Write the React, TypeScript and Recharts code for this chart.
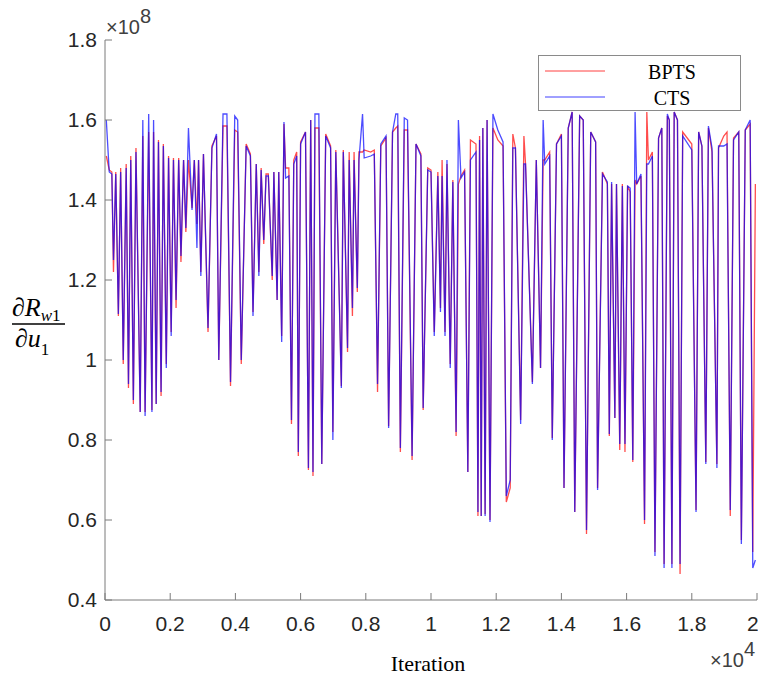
import { LineChart, Line, XAxis, YAxis, Legend } from 'recharts';

// iteration index of each vertex (shared by both series)
const iterations = [
  40, 130, 210, 260, 330, 410, 480, 560, 650, 720,
  790, 870, 950, 1080, 1160, 1230, 1340, 1440, 1490, 1570,
  1640, 1720, 1790, 1880, 1950, 2030, 2100, 2180, 2260, 2330,
  2410, 2480, 2560, 2670, 2740, 2820, 2870, 2940, 3020, 3160,
  3280, 3420, 3490, 3620, 3740, 3850, 3980, 4070, 4180, 4330,
  4460, 4540, 4640, 4720, 4790, 4870, 4940, 5010, 5130, 5180,
  5280, 5330, 5420, 5490, 5540, 5640, 5720, 5790, 5880, 5930,
  6000, 6150, 6240, 6310, 6380, 6440, 6560, 6650, 6770, 6920,
  6990, 7080, 7250, 7310, 7440, 7490, 7590, 7640, 7740, 7790,
  7900, 7950, 8150, 8260, 8360, 8460, 8620, 8700, 8820, 8920,
  8980, 9060, 9180, 9280, 9420, 9540, 9690, 9760, 9900, 10000,
  10100, 10210, 10290, 10340, 10430, 10490, 10590, 10670, 10770, 10840,
  10920, 11030, 11130, 11210, 11380, 11440, 11490, 11540, 11590, 11660,
  11720, 11810, 11900, 12050, 12210, 12310, 12430, 12510, 12590, 12750,
  12850, 12900, 13110, 13230, 13360, 13440, 13490, 13640, 13720, 13850,
  14000, 14080, 14210, 14330, 14410, 14560, 14670, 14770, 14900, 15050,
  15110, 15260, 15410, 15470, 15540, 15640, 15690, 15790, 15870, 15950,
  16030, 16110, 16190, 16260, 16310, 16440, 16550, 16620, 16670, 16790,
  16870, 16980, 17080, 17150, 17250, 17310, 17390, 17460, 17560, 17640,
  17720, 18000, 18130, 18210, 18310, 18430, 18510, 18620, 18770, 18820,
  18980, 19080, 19180, 19280, 19440, 19520, 19640, 19790, 19870, 19950,
];

// dR_w1/du_1 in units of 1e8
const bptsValues = [
  1.51, 1.475, 1.47, 1.22, 1.47, 1.11, 1.48, 0.99, 1.49, 0.93,
  1.51, 0.89, 1.53, 0.87, 1.56, 0.87, 1.57, 0.875, 1.57, 0.89,
  1.55, 0.91, 1.54, 0.99, 1.51, 1.07, 1.505, 1.13, 1.505, 1.245,
  1.5, 1.32, 1.5, 1.38, 1.5, 1.34, 1.5, 1.22, 1.515, 1.07,
  1.535, 1.56, 1.0, 1.585, 1.585, 0.935, 1.575, 1.57, 0.99, 1.54,
  1.515, 1.12, 1.49, 1.22, 1.48, 1.29, 1.465, 1.465, 1.2, 1.47,
  1.15, 1.47, 1.06, 1.59, 1.48, 1.48, 0.84, 1.5, 1.52, 0.76,
  1.545, 1.57, 0.725, 1.6, 0.71, 1.58, 1.58, 0.74, 1.565, 1.535,
  0.82, 1.525, 0.935, 1.525, 1.02, 1.52, 1.11, 1.52, 1.17, 1.52,
  1.52, 1.525, 1.52, 1.525, 0.92, 1.535, 1.555, 0.835, 1.57, 1.58,
  1.585, 0.77, 1.575, 1.575, 0.75, 1.54, 1.515, 0.875, 1.48, 1.475,
  1.07, 1.47, 1.13, 1.5, 1.07, 1.49, 0.99, 1.45, 0.81, 1.44,
  1.46, 1.475, 0.72, 1.55, 1.54, 0.61, 1.56, 0.61, 1.58, 0.615,
  1.6, 0.6, 1.58, 1.55, 1.535, 0.645, 0.68, 1.565, 1.53, 0.85,
  1.56, 1.49, 0.945, 1.5, 0.98, 1.5, 1.5, 1.52, 0.805, 1.54,
  1.565, 0.68, 1.58, 1.62, 0.62, 1.61, 1.6, 0.565, 1.57, 1.545,
  0.68, 1.47, 1.44, 0.81, 1.44, 0.855, 1.44, 0.775, 1.44, 0.77,
  1.435, 1.42, 0.745, 1.45, 1.44, 1.46, 0.59, 1.62, 1.5, 1.52,
  0.52, 1.555, 1.58, 0.49, 1.61, 1.6, 0.49, 1.62, 1.6, 0.465,
  1.57, 1.54, 0.625, 1.57, 1.535, 0.745, 1.58, 1.52, 0.74, 1.53,
  1.56, 1.57, 0.61, 1.555, 1.57, 0.55, 1.575, 1.59, 0.52, 1.44,
];

const ctsValues = [
  1.6, 1.47, 1.465, 1.25, 1.465, 1.115, 1.47, 1.0, 1.48, 0.94,
  1.5, 0.9, 1.52, 0.87, 1.6, 0.86, 1.615, 0.87, 1.6, 0.89,
  1.545, 0.92, 1.535, 0.98, 1.505, 1.06, 1.5, 1.15, 1.5, 1.26,
  1.5, 1.33, 1.58, 1.375, 1.5, 1.28, 1.5, 1.21, 1.515, 1.08,
  1.53, 1.565, 1.0, 1.615, 1.615, 0.945, 1.61, 1.6, 1.0, 1.535,
  1.51, 1.11, 1.49, 1.21, 1.475, 1.3, 1.46, 1.46, 1.21, 1.47,
  1.15, 1.47, 1.045, 1.595, 1.455, 1.46, 0.85, 1.49, 1.51, 0.77,
  1.54, 1.57, 0.73, 1.6, 0.72, 1.615, 1.615, 0.74, 1.56, 1.53,
  0.8, 1.52, 0.93, 1.52, 1.03, 1.5, 1.13, 1.5, 1.18, 1.5,
  1.615, 1.505, 1.51, 1.515, 0.94, 1.54, 1.56, 0.83, 1.57, 1.615,
  1.615, 0.78, 1.605, 1.6, 0.76, 1.54, 1.51, 0.88, 1.475, 1.47,
  1.06, 1.46, 1.12, 1.46, 1.06, 1.5, 0.98, 1.445, 0.82, 1.6,
  1.455, 1.47, 0.72, 1.5, 1.52, 0.62, 1.55, 0.61, 1.58, 0.61,
  1.6, 0.595, 1.615, 1.575, 1.545, 0.66, 0.7, 1.53, 1.53, 0.84,
  1.49, 1.49, 0.94, 1.5, 0.98, 1.6, 1.49, 1.51, 0.8, 1.54,
  1.56, 0.68, 1.58, 1.62, 0.62, 1.61, 1.6, 0.575, 1.57, 1.545,
  0.675, 1.465, 1.445, 0.815, 1.445, 0.855, 1.44, 0.79, 1.435, 0.79,
  1.435, 1.43, 0.75, 1.62, 1.44, 1.465, 0.6, 1.49, 1.49, 1.51,
  0.51, 1.555, 1.58, 0.48, 1.615, 1.6, 0.48, 1.62, 1.6, 0.49,
  1.56, 1.525, 0.62, 1.57, 1.535, 0.74, 1.585, 1.53, 0.73, 1.535,
  1.535, 1.54, 0.625, 1.55, 1.57, 0.54, 1.575, 1.6, 0.48, 0.5,
];

const xTicks = [0, 2000, 4000, 6000, 8000, 10000, 12000, 14000, 16000, 18000, 20000];
const yTicks = [0.4, 0.6, 0.8, 1, 1.2, 1.4, 1.6, 1.8];

const bptsData = iterations.map((x, i) => ({ x, y: bptsValues[i] }));
const ctsData = iterations.map((x, i) => ({ x, y: ctsValues[i] }));

const axisColor = '#7a7a7a';
const sans = '"Liberation Sans", Arial, sans-serif';
const serif = '"Liberation Serif", "Times New Roman", serif';
const tickFont = { fontFamily: sans, fontSize: 21, fill: '#262626' };

function LegendBox({ payload }: any) {
  return (
    <div
      style={{
        width: 203,
        height: 56,
        boxSizing: 'border-box',
        border: '1px solid #8a8a8a',
        background: '#fff',
        position: 'relative',
        fontFamily: serif,
        fontSize: 20,
        color: '#000',
      }}
    >
      {(payload || []).map((entry: any, i: number) => (
        <div key={entry.value} style={{ position: 'absolute', left: 0, top: 4 + i * 26, width: '100%', height: 24 }}>
          <svg width={70} height={24} style={{ position: 'absolute', left: 0, top: 0 }}>
            <line x1={6} x2={66} y1={11} y2={11} stroke={entry.color} strokeOpacity={0.75} strokeWidth={1} />
          </svg>
          <span style={{ position: 'absolute', left: 95, width: 76, textAlign: 'center', top: 0, lineHeight: '24px' }}>
            {entry.value}
          </span>
        </div>
      ))}
    </div>
  );
}

export default function App() {
  return (
    <div style={{ position: 'absolute', left: 0, top: 0, width: 758, height: 677, background: '#fff' }}>
      <LineChart width={758} height={677} margin={{ top: 40, right: 1, bottom: 47, left: 0 }}>
        <XAxis
          dataKey="x"
          type="number"
          domain={[0, 20000]}
          allowDataOverflow
          ticks={xTicks}
          tickFormatter={(v: number) => String(v / 10000)}
          height={30}
          stroke={axisColor}
          tickSize={-7}
          tickMargin={23}
          tick={tickFont}
        />
        <XAxis
          xAxisId="top"
          orientation="top"
          type="number"
          domain={[0, 20000]}
          allowDataOverflow
          ticks={xTicks}
          height={0}
          stroke={axisColor}
          tickSize={-7}
          tick={false}
        />
        <YAxis
          type="number"
          domain={[0.4, 1.8]}
          allowDataOverflow
          ticks={yTicks}
          tickFormatter={(v: number) => String(v)}
          width={105}
          stroke={axisColor}
          tickSize={-7}
          tickMargin={15}
          tick={tickFont}
        />
        <YAxis
          yAxisId="right"
          orientation="right"
          type="number"
          domain={[0.4, 1.8]}
          allowDataOverflow
          ticks={yTicks}
          width={0}
          stroke={axisColor}
          tickSize={-7}
          tick={false}
        />
        <Legend
          layout="horizontal"
          verticalAlign="middle"
          align="center"
          content={<LegendBox />}
          wrapperStyle={{ left: 538, top: 55, width: 203, height: 56 }}
        />
        <Line
          data={bptsData}
          dataKey="y"
          name="BPTS"
          type="linear"
          stroke="#ff0000"
          strokeOpacity={0.7}
          strokeWidth={1.3}
          dot={false}
          activeDot={false}
          isAnimationActive={false}
        />
        <Line
          data={ctsData}
          dataKey="y"
          name="CTS"
          type="linear"
          stroke="#0000ff"
          strokeOpacity={0.7}
          strokeWidth={1.3}
          dot={false}
          activeDot={false}
          isAnimationActive={false}
        />
      </LineChart>
      <svg
        width={758}
        height={677}
        style={{ position: 'absolute', left: 0, top: 0, pointerEvents: 'none' }}
      >
        <text x={106} y={34} fontFamily={sans} fontSize={20} fill="#404040">
          ×10<tspan dy={-11}>8</tspan>
        </text>
        <text x={710} y={667} fontFamily={sans} fontSize={20} fill="#404040">
          ×10<tspan dy={-11}>4</tspan>
        </text>
        <text x={428} y={671} textAnchor="middle" fontFamily={serif} fontSize={22} fill="#000">
          Iteration
        </text>
        <text x={12} y={316} fontFamily={serif} fontSize={26} fill="#000">
          <tspan fontStyle="italic">∂R</tspan>
          <tspan fontSize={17} dy={5} fontStyle="italic">w</tspan>
          <tspan fontSize={17}>1</tspan>
        </text>
        <line x1={12} x2={65} y1={324} y2={324} stroke="#000" strokeWidth={1.3} />
        <text x={15} y={347} fontFamily={serif} fontSize={26} fill="#000">
          <tspan fontStyle="italic">∂u</tspan>
          <tspan fontSize={17} dy={8}>1</tspan>
        </text>
      </svg>
    </div>
  );
}
